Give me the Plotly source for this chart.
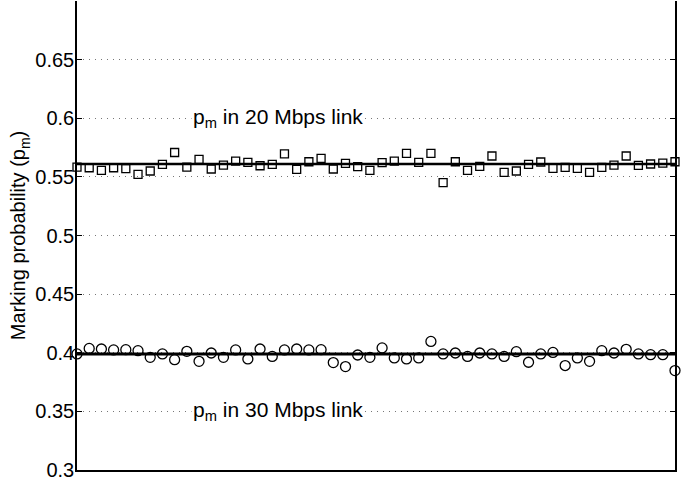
import plotly.graph_objects as go

runs = list(range(1, 51))

pm_20 = [0.5583, 0.5578, 0.5556, 0.5578, 0.5570, 0.5522, 0.5550, 0.5606, 0.5708, 0.5584,
         0.5649, 0.5567, 0.5601, 0.5635, 0.5623, 0.5595, 0.5606, 0.5697, 0.5564, 0.5629,
         0.5657, 0.5567, 0.5615, 0.5587, 0.5556, 0.5621, 0.5635, 0.5700, 0.5623, 0.5700,
         0.5451, 0.5629, 0.5556, 0.5590, 0.5678, 0.5539, 0.5550, 0.5606, 0.5627, 0.5573,
         0.5581, 0.5573, 0.5539, 0.5581, 0.5601, 0.5678, 0.5598, 0.5610, 0.5618, 0.5629]

pm_30 = [0.3990, 0.4037, 0.4032, 0.4024, 0.4026, 0.4018, 0.3961, 0.3990, 0.3941, 0.4012,
         0.3927, 0.3998, 0.3961, 0.4024, 0.3947, 0.4032, 0.3969, 0.4024, 0.4032, 0.4024,
         0.4026, 0.3916, 0.3882, 0.3981, 0.3961, 0.4041, 0.3956, 0.3947, 0.3956, 0.4097,
         0.3990, 0.3998, 0.3969, 0.3998, 0.3990, 0.3969, 0.4009, 0.3919, 0.3990, 0.4003,
         0.3891, 0.3956, 0.3927, 0.4018, 0.3998, 0.4029, 0.3990, 0.3984, 0.3984, 0.3848]

mean_20 = 0.561
mean_30 = 0.399

y_ticks = [0.3, 0.35, 0.4, 0.45, 0.5, 0.55, 0.6, 0.65, 0.7]
y_labels = ["0.3", "0.35", "0.4", "0.45", "0.5", "0.55", "0.6", "0.65", ""]

fig = go.Figure()

fig.add_trace(go.Scatter(x=[runs[0], runs[-1]], y=[mean_20, mean_20], mode="lines",
                         line=dict(color="black", width=2.4), showlegend=False))
fig.add_trace(go.Scatter(x=[runs[0], runs[-1]], y=[mean_30, mean_30], mode="lines",
                         line=dict(color="black", width=3), showlegend=False))
fig.add_trace(go.Scatter(x=runs, y=pm_20, mode="markers", cliponaxis=False,
                         marker=dict(symbol="square-open", size=8, color="black",
                                     line=dict(width=1.3, color="black")),
                         showlegend=False))
fig.add_trace(go.Scatter(x=runs, y=pm_30, mode="markers", cliponaxis=False,
                         marker=dict(symbol="circle-open", size=10, color="black",
                                     line=dict(width=1.3, color="black")),
                         showlegend=False))

font_family = "Liberation Sans, Arial, Helvetica, sans-serif"

fig.add_annotation(x=0.19, xref="paper", y=0.6, yref="y",
                   text="p<sub>m</sub> in 20 Mbps link", showarrow=False,
                   xanchor="left", yanchor="middle",
                   font=dict(family=font_family, size=21, color="black"), bgcolor="white")
fig.add_annotation(x=0.19, xref="paper", y=0.35, yref="y",
                   text="p<sub>m</sub> in 30 Mbps link", showarrow=False,
                   xanchor="left", yanchor="middle",
                   font=dict(family=font_family, size=21, color="black"), bgcolor="white")

fig.update_layout(
    width=696, height=487,
    margin=dict(l=77, r=21, t=1, b=17),
    paper_bgcolor="white", plot_bgcolor="white",
    font=dict(family=font_family, size=19, color="black"),
    xaxis=dict(range=[1, 50], showgrid=False, zeroline=False, showticklabels=False,
               showline=True, linecolor="black", linewidth=1.5, ticks=""),
    yaxis=dict(range=[0.3, 0.7], tickvals=y_ticks, ticktext=y_labels,
               showgrid=True, gridcolor="#777777", griddash="1px,5px", gridwidth=1,
               zeroline=False, showline=True, linecolor="black", linewidth=1.5,
               mirror="ticks", ticks="inside", ticklen=5, tickcolor="black",
               tickfont=dict(size=20), ticklabelstandoff=-3,
               title=dict(text="Marking probability (p<sub>m</sub>)",
                          font=dict(size=20), standoff=4)),
)

fig.write_html("out.html")
